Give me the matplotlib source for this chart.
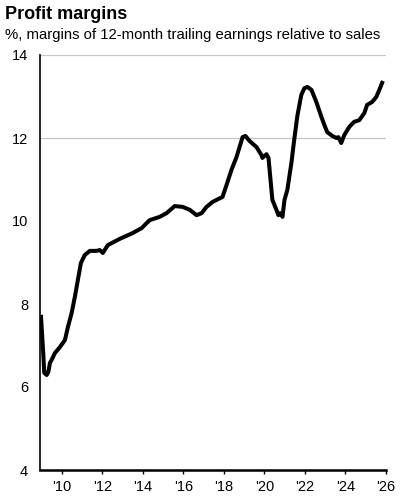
import matplotlib.pyplot as plt

# profit margins, % (12-month trailing earnings / sales)
years = [2008.97, 2009.08, 2009.13, 2009.25, 2009.33, 2009.41, 2009.49, 2009.66,
         2009.90, 2010.15, 2010.30, 2010.48, 2010.64, 2010.79, 2010.94, 2011.13,
         2011.38, 2011.71, 2011.87, 2012.02, 2012.27, 2012.86, 2013.50, 2013.94,
         2014.33, 2014.83, 2015.17, 2015.57, 2015.96, 2016.31, 2016.65, 2016.90,
         2017.14, 2017.44, 2017.64, 2017.93, 2018.13, 2018.37, 2018.62, 2018.77,
         2018.92, 2019.06, 2019.26, 2019.61, 2019.85, 2019.90, 2020.10, 2020.20,
         2020.30, 2020.39, 2020.59, 2020.69, 2020.79, 2020.89, 2020.99, 2021.13,
         2021.33, 2021.48, 2021.63, 2021.82, 2021.97, 2022.12, 2022.32, 2022.56,
         2022.81, 2022.96, 2023.10, 2023.35, 2023.55, 2023.65, 2023.79, 2023.94,
         2024.19, 2024.43, 2024.68, 2024.93, 2025.07, 2025.32, 2025.52, 2025.67,
         2025.81]
margins = [7.69, 6.82, 6.34, 6.29, 6.36, 6.58, 6.65, 6.82,
           6.96, 7.13, 7.45, 7.78, 8.17, 8.58, 8.99, 9.18,
           9.28, 9.28, 9.30, 9.23, 9.42, 9.57, 9.71, 9.83,
           10.02, 10.10, 10.19, 10.36, 10.34, 10.27, 10.14, 10.19,
           10.34, 10.46, 10.51, 10.58, 10.87, 11.23, 11.54, 11.78,
           12.02, 12.05, 11.93, 11.78, 11.59, 11.52, 11.61, 11.52,
           10.99, 10.51, 10.27, 10.14, 10.19, 10.10, 10.51, 10.75,
           11.40, 12.00, 12.55, 13.04, 13.20, 13.23, 13.16, 12.87,
           12.51, 12.31, 12.14, 12.05, 12.00, 12.02, 11.88, 12.07,
           12.27, 12.39, 12.43, 12.60, 12.80, 12.87, 12.99, 13.16,
           13.33]

xticks = [2010, 2012, 2014, 2016, 2018, 2020, 2022, 2024, 2026]
xlabels = ["'10", "'12", "'14", "'16", "'18", "'20", "'22", "'24", "'26"]
yticks = [4, 6, 8, 10, 12, 14]

plt.rcParams['font.family'] = ['Liberation Sans', 'DejaVu Sans']

fig = plt.figure(figsize=(4, 5), dpi=100)
ax = fig.add_axes([0.1, 0.06, 0.865, 0.83])

for g in [12, 14]:
    ax.axhline(g, color='#c4c4cc', lw=0.9, zorder=1)

ax.plot(years, margins, color='black', lw=2.9, solid_joinstyle='round', zorder=3)

ax.set_xlim(2008.92, 2026.0)
ax.set_ylim(4, 14)
ax.set_xticks(xticks)
ax.set_xticklabels(xlabels)
ax.set_yticks(yticks)

for s in ['top', 'right']:
    ax.spines[s].set_visible(False)
ax.spines['left'].set_linewidth(1.2)
ax.spines['bottom'].set_linewidth(1.8)

ax.tick_params(axis='y', length=0, pad=8.5, labelsize=10.5)
ax.tick_params(axis='x', length=3, width=1, direction='out', pad=4, labelsize=10.5)

fig.text(0.012, 0.962, 'Profit margins', fontsize=13, fontweight='bold')
fig.text(0.012, 0.922, '%, margins of 12-month trailing earnings relative to sales', fontsize=10.7)

fig.savefig('out.png', dpi=100)
